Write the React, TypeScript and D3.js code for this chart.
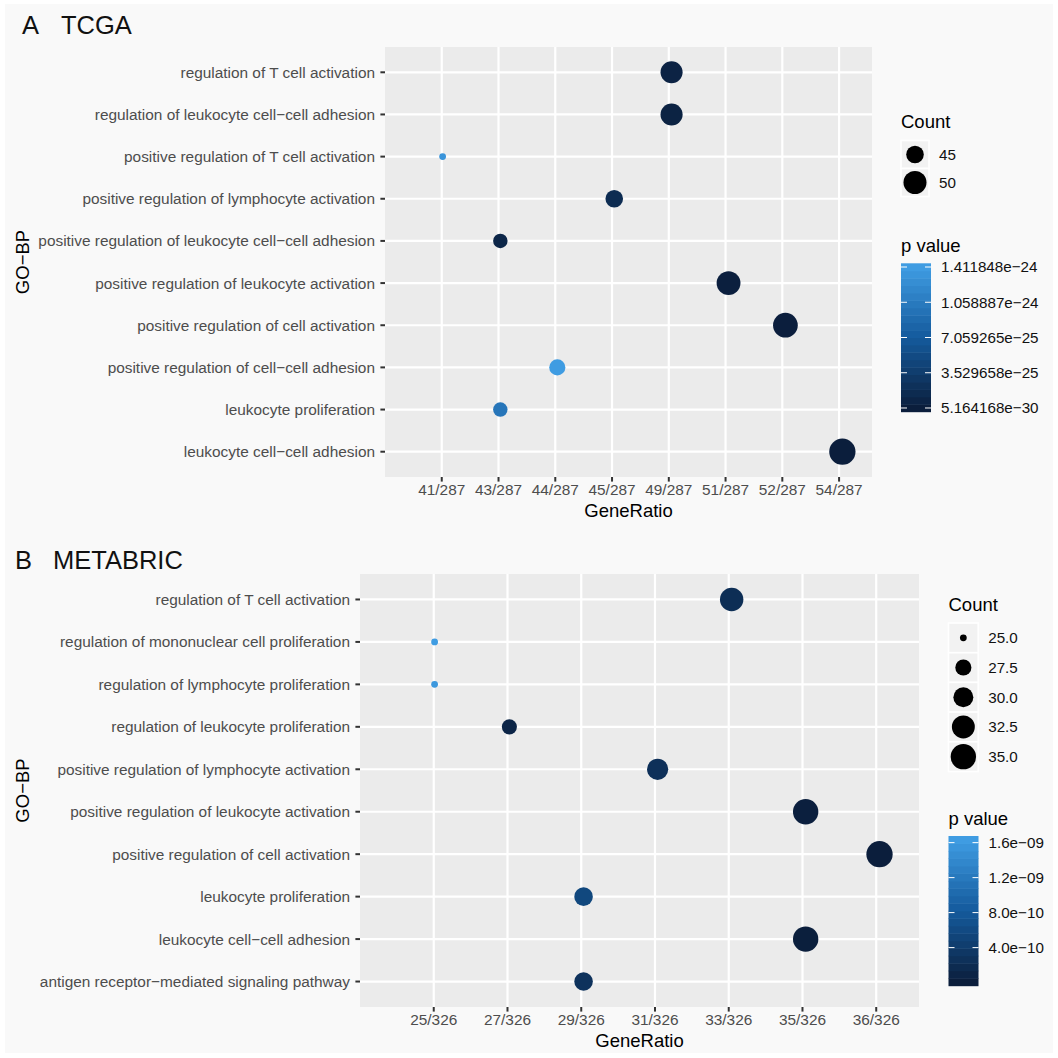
import React from "react";
import * as d3 from "d3";

// ---- TCGA (panel A) ----
const tcgaTerms = [
  "regulation of T cell activation",
  "regulation of leukocyte cell−cell adhesion",
  "positive regulation of T cell activation",
  "positive regulation of lymphocyte activation",
  "positive regulation of leukocyte cell−cell adhesion",
  "positive regulation of leukocyte activation",
  "positive regulation of cell activation",
  "positive regulation of cell−cell adhesion",
  "leukocyte proliferation",
  "leukocyte cell−cell adhesion",
];
const tcgaGeneRatio = ["49/287", "49/287", "41/287", "45/287", "43/287", "51/287", "52/287", "44/287", "43/287", "54/287"];
const tcgaPValue = [6.0e-26, 5.5e-26, 1.33e-24, 1.6e-25, 9.0e-26, 1.2e-26, 4.5e-27, 1.411848e-24, 1.0e-24, 5.164168e-30];
const tcgaRatioTicks = ["41/287", "43/287", "44/287", "45/287", "49/287", "51/287", "52/287", "54/287"];
const tcgaCountBreaks = [45, 50];
const tcgaCountLabels = ["45", "50"];
const tcgaPBreaks = [5.164168e-30, 3.529658e-25, 7.059265e-25, 1.058887e-24, 1.411848e-24];
const tcgaPLabels = ["5.164168e−30", "3.529658e−25", "7.059265e−25", "1.058887e−24", "1.411848e−24"];

// ---- METABRIC (panel B) ----
const metabricTerms = [
  "regulation of T cell activation",
  "regulation of mononuclear cell proliferation",
  "regulation of lymphocyte proliferation",
  "regulation of leukocyte proliferation",
  "positive regulation of lymphocyte activation",
  "positive regulation of leukocyte activation",
  "positive regulation of cell activation",
  "leukocyte proliferation",
  "leukocyte cell−cell adhesion",
  "antigen receptor−mediated signaling pathway",
];
const metabricGeneRatio = ["33/326", "25/326", "25/326", "27/326", "31/326", "35/326", "36/326", "29/326", "35/326", "29/326"];
const metabricPValue = [2.2e-10, 1.633e-9, 1.58e-9, 1.0e-10, 2.5e-10, 2.5e-11, 7.0e-12, 5.7e-10, 1.5e-11, 2.8e-10];
const metabricRatioTicks = ["25/326", "27/326", "29/326", "31/326", "33/326", "35/326", "36/326"];
const metabricCountBreaks = [25, 27.5, 30, 32.5, 35];
const metabricCountLabels = ["25.0", "27.5", "30.0", "32.5", "35.0"];
const metabricPBreaks = [4e-10, 8e-10, 1.2e-9, 1.6e-9];
const metabricPLabels = ["4.0e−10", "8.0e−10", "1.2e−09", "1.6e−09"];

const FONT = "'Liberation Sans', Arial, Helvetica, sans-serif";
// dark navy -> blue -> light blue colour ramp for p values
const RAMP = ["#0b1e3c", "#145a9c", "#3f9ce2"];
const NBIN = 20;
const AXIS_FS = 15.4;

type Layout = {
  letter: string;
  name: string;
  letterX: number;
  nameX: number;
  titleY: number;
  px: number;
  py: number;
  pw: number;
  ph: number;
  legX: number;
  countTitleY: number;
  keyTop: number;
  keySize: number;
  pTitleY: number;
  barTop: number;
  barH: number;
};

type PanelProps = {
  layout: Layout;
  terms: string[];
  ratios: string[];
  pvalues: number[];
  ratioTicks: string[];
  countBreaks: number[];
  countLabels: string[];
  pBreaks: number[];
  pLabels: string[];
};

function Panel({ layout: L, terms, ratios, pvalues, ratioTicks, countBreaks, countLabels, pBreaks, pLabels }: PanelProps) {
  const counts = ratios.map((r) => +r.split("/")[0]);
  const step = L.pw / (ratioTicks.length + 0.58);
  const x = d3.scalePoint<string>().domain(ratioTicks).range([L.px + step, L.px + L.pw - 0.58 * step]);
  const y = d3.scalePoint<string>().domain(terms).range([L.py, L.py + L.ph]).padding(0.6);

  const cExt = d3.extent(counts) as [number, number];
  const sizeT = d3.scaleLinear().domain(cExt).range([0, 1]);
  const radius = (c: number) => (6.8 + 19.5 * Math.sqrt(Math.max(0, sizeT(c)))) / 2;

  const pExt = d3.extent(pvalues) as [number, number];
  const color = d3
    .scaleLinear<string>()
    .domain([pExt[0], (pExt[0] + pExt[1]) / 2, pExt[1]])
    .range(RAMP)
    .interpolate(d3.interpolateRgb);

  const barW = 30;
  const barBottom = L.barTop + L.barH;
  const barPos = d3
    .scaleLinear()
    .domain(pExt)
    .range([barBottom - (0.5 / NBIN) * L.barH, L.barTop + (0.5 / NBIN) * L.barH]);
  const bins = d3.range(NBIN).map((i) => pExt[0] + (i / (NBIN - 1)) * (pExt[1] - pExt[0]));
  const binH = L.barH / NBIN;

  const gridW = 2.2;
  const tickC = "#333333";
  const axisTxt = "#4d4d4d";

  return (
    <g>
      <text x={L.letterX} y={L.titleY} fontSize={25.5} fill="#111">{L.letter}</text>
      <text x={L.nameX} y={L.titleY} fontSize={25.5} fill="#111">{L.name}</text>

      <rect x={L.px} y={L.py} width={L.pw} height={L.ph} fill="#ebebeb" />
      {ratioTicks.map((t) => (
        <line key={"vx" + t} x1={x(t)} x2={x(t)} y1={L.py} y2={L.py + L.ph} stroke="#fff" strokeWidth={gridW} />
      ))}
      {terms.map((t) => (
        <line key={"hy" + t} x1={L.px} x2={L.px + L.pw} y1={y(t)} y2={y(t)} stroke="#fff" strokeWidth={gridW} />
      ))}

      {terms.map((t, i) => {
        const r = radius(counts[i]);
        return (
          <circle key={"pt" + i} cx={(x(ratios[i]) as number) + 0.25 * r} cy={y(t)} r={r} fill={color(pvalues[i])} />
        );
      })}

      {/* y axis */}
      {terms.map((t) => (
        <g key={"yl" + t}>
          <line x1={L.px - 4.6} x2={L.px} y1={y(t)} y2={y(t)} stroke={tickC} strokeWidth={2} />
          <text x={L.px - 10} y={y(t)} dy="0.36em" textAnchor="end" fontSize={AXIS_FS} fill={axisTxt}>{t}</text>
        </g>
      ))}
      {/* x axis */}
      {ratioTicks.map((t) => (
        <g key={"xl" + t}>
          <line x1={x(t)} x2={x(t)} y1={L.py + L.ph} y2={L.py + L.ph + 4.6} stroke={tickC} strokeWidth={2} />
          <text x={x(t)} y={L.py + L.ph + 18} textAnchor="middle" fontSize={AXIS_FS} fill={axisTxt}>{t}</text>
        </g>
      ))}
      <text x={L.px + L.pw / 2} y={L.py + L.ph + 39.7} textAnchor="middle" fontSize={18.5} fill="#000">GeneRatio</text>
      <text
        transform={`translate(28.5,${L.py + L.ph / 2}) rotate(-90)`}
        textAnchor="middle"
        fontSize={18.5}
        fill="#000"
      >
        GO−BP
      </text>

      {/* size legend */}
      <text x={L.legX} y={L.countTitleY} fontSize={18.5} fill="#000">Count</text>
      {countBreaks.map((c, i) => {
        const top = L.keyTop + i * L.keySize;
        return (
          <g key={"ck" + i}>
            <rect x={L.legX} y={top} width={L.keySize} height={L.keySize} fill="#f2f2f2" stroke="#fff" strokeWidth={1.6} />
            <circle cx={L.legX + L.keySize / 2} cy={top + L.keySize / 2} r={radius(c)} fill="#000" />
            <text x={L.legX + L.keySize + 10} y={top + L.keySize / 2} dy="0.36em" fontSize={15.2} fill="#111">
              {countLabels[i]}
            </text>
          </g>
        );
      })}

      {/* colour bar */}
      <text x={L.legX} y={L.pTitleY} fontSize={18.5} fill="#000">p value</text>
      {bins.map((v, i) => (
        <rect
          key={"bin" + i}
          x={L.legX}
          y={barBottom - (i + 1) * binH}
          width={barW}
          height={binH + 0.5}
          fill={color(v)}
        />
      ))}
      {pBreaks.map((b, i) => (
        <g key={"pb" + i}>
          <line x1={L.legX} x2={L.legX + barW / 5} y1={barPos(b)} y2={barPos(b)} stroke="#fff" strokeWidth={1} />
          <line x1={L.legX + barW - barW / 5} x2={L.legX + barW} y1={barPos(b)} y2={barPos(b)} stroke="#fff" strokeWidth={1} />
          <text x={L.legX + barW + 10} y={barPos(b)} dy="0.36em" fontSize={15.2} fill="#111">{pLabels[i]}</text>
        </g>
      ))}
    </g>
  );
}

const layoutA: Layout = {
  letter: "A",
  name: "TCGA",
  letterX: 22,
  nameX: 61,
  titleY: 33.8,
  px: 385,
  py: 47,
  pw: 487,
  ph: 430,
  legX: 901,
  countTitleY: 128,
  keyTop: 140.5,
  keySize: 28,
  pTitleY: 251.7,
  barTop: 263.3,
  barH: 148.4,
};

const layoutB: Layout = {
  letter: "B",
  name: "METABRIC",
  letterX: 15,
  nameX: 53,
  titleY: 569.3,
  px: 360,
  py: 574,
  pw: 559,
  ph: 433,
  legX: 948.5,
  countTitleY: 611,
  keyTop: 623,
  keySize: 29.7,
  pTitleY: 825,
  barTop: 836,
  barH: 149.7,
};

export default function App() {
  return (
    <svg
      width={1058}
      height={1058}
      style={{ position: "absolute", left: 0, top: 0, display: "block" }}
      fontFamily={FONT}
    >
      <rect x={0} y={0} width={1058} height={1058} fill="#ffffff" />
      <rect x={5} y={4} width={1048} height={1049} fill="#f9f9f9" />
      <Panel
        layout={layoutA}
        terms={tcgaTerms}
        ratios={tcgaGeneRatio}
        pvalues={tcgaPValue}
        ratioTicks={tcgaRatioTicks}
        countBreaks={tcgaCountBreaks}
        countLabels={tcgaCountLabels}
        pBreaks={tcgaPBreaks}
        pLabels={tcgaPLabels}
      />
      <Panel
        layout={layoutB}
        terms={metabricTerms}
        ratios={metabricGeneRatio}
        pvalues={metabricPValue}
        ratioTicks={metabricRatioTicks}
        countBreaks={metabricCountBreaks}
        countLabels={metabricCountLabels}
        pBreaks={metabricPBreaks}
        pLabels={metabricPLabels}
      />
    </svg>
  );
}
